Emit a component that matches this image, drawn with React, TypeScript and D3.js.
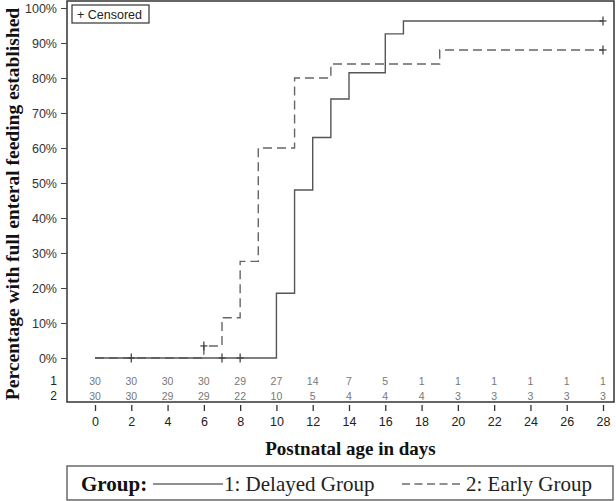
import { axisBottom, axisLeft, curveStepAfter, line, scaleLinear, select } from 'd3'
import { useEffect, useRef } from 'react'

// Kaplan-Meier style steps: times where the curve jumps and the level after each jump (%)
const delayedTimes = [0, 10, 11, 12, 13, 14, 16, 17]
const delayedValues = [0, 18.5, 48, 63, 74, 81.5, 92.6, 96.3]
const earlyTimes = [0, 6, 7, 8, 9, 11, 13, 19]
const earlyValues = [0, 3.45, 11.5, 27.6, 60, 80, 84, 88]

// censored observations [day, level %]
const delayedCensored = [[2, 0], [7, 0], [8, 0], [28, 96.3]]
const earlyCensored = [[6, 3.45], [28, 88]]

const dayTicks = [0, 2, 4, 6, 8, 10, 12, 14, 16, 18, 20, 22, 24, 26, 28]
const atRiskDelayed = [30, 30, 30, 30, 29, 27, 14, 7, 5, 1, 1, 1, 1, 1, 1]
const atRiskEarly = [30, 30, 29, 29, 22, 10, 5, 4, 4, 4, 3, 3, 3, 3, 3]
const pctTicks = [0, 10, 20, 30, 40, 50, 60, 70, 80, 90, 100]

const W = 616
const H = 501
const frame = { left: 67, top: 1, right: 614, bottom: 402 }
const sans = 'Liberation Sans, Arial, sans-serif'
const serif = 'Liberation Serif, Times New Roman, serif'

export default function App() {
    const ref = useRef(null)

    useEffect(() => {
        document.body.style.margin = '0'
        const svg = select(ref.current)
        svg.selectAll('*').remove()

        const x = scaleLinear().domain([0, 28]).range([95, 603])
        const y = scaleLinear().domain([0, 100]).range([358, 8])

        // frame
        svg.append('rect')
            .attr('x', frame.left)
            .attr('y', frame.top)
            .attr('width', frame.right - frame.left)
            .attr('height', frame.bottom - frame.top)
            .attr('fill', 'none')
            .attr('stroke', '#333')
            .attr('stroke-width', 1.5)

        // y axis
        svg.append('g')
            .attr('transform', `translate(${frame.left},0)`)
            .call(axisLeft(y).tickValues(pctTicks).tickSize(6).tickPadding(4).tickFormat(d => `${d}%`))
            .call(g => g.select('.domain').remove())
            .call(g => g.selectAll('line').attr('stroke', '#444'))
            .call(g => g.selectAll('text')
                .attr('font-family', sans)
                .attr('font-size', 12.5)
                .attr('fill', '#333'))

        // x axis below frame
        svg.append('g')
            .attr('transform', `translate(0,${frame.bottom + 3})`)
            .call(axisBottom(x).tickValues(dayTicks).tickSize(6).tickPadding(6))
            .call(g => g.select('.domain').remove())
            .call(g => g.selectAll('line').attr('stroke', '#333').attr('stroke-width', 1.3))
            .call(g => g.selectAll('text')
                .attr('font-family', sans)
                .attr('font-size', 12.5)
                .attr('fill', '#222'))

        const step = line()
            .curve(curveStepAfter)
            .x(d => x(d[0]))
            .y(d => y(d[1]))

        const toPoints = (times, values) => {
            const pts = times.map((t, i) => [t, values[i]])
            pts.push([28, values[values.length - 1]])
            return pts
        }

        svg.append('path')
            .datum(toPoints(earlyTimes, earlyValues))
            .attr('fill', 'none')
            .attr('stroke', '#666')
            .attr('stroke-width', 1.4)
            .attr('stroke-dasharray', '9,5')
            .attr('d', step)

        svg.append('path')
            .datum(toPoints(delayedTimes, delayedValues))
            .attr('fill', 'none')
            .attr('stroke', '#555')
            .attr('stroke-width', 1.4)
            .attr('d', step)

        const censor = (pts, color) => {
            const g = svg.append('g').attr('stroke', color).attr('stroke-width', 1.3)
            pts.forEach(([t, v]) => {
                g.append('line').attr('x1', x(t)).attr('x2', x(t)).attr('y1', y(v) - 4.5).attr('y2', y(v) + 4.5)
                g.append('line').attr('x1', x(t) - 3.5).attr('x2', x(t) + 3.5).attr('y1', y(v)).attr('y2', y(v))
            })
        }
        censor(delayedCensored, '#444')
        censor(earlyCensored, '#444')

        // censored legend box
        svg.append('rect')
            .attr('x', 72).attr('y', 5).attr('width', 77).attr('height', 18)
            .attr('fill', 'white').attr('stroke', '#333').attr('stroke-width', 1.2)
        svg.append('text')
            .attr('x', 77).attr('y', 19)
            .attr('font-family', sans).attr('font-size', 12.5).attr('fill', '#222')
            .text('+ Censored')

        // number at risk table
        const rows = [[atRiskDelayed, 381, '1'], [atRiskEarly, 396, '2']]
        rows.forEach(([vals, ry, label]) => {
            svg.append('text')
                .attr('x', 57).attr('y', ry).attr('dy', '0.35em')
                .attr('text-anchor', 'end')
                .attr('font-family', sans).attr('font-size', 12).attr('fill', '#222')
                .text(label)
            svg.append('g').selectAll('text').data(vals).join('text')
                .attr('x', (d, i) => x(dayTicks[i]))
                .attr('y', ry).attr('dy', '0.35em')
                .attr('text-anchor', 'middle')
                .attr('font-family', sans).attr('font-size', 10.5).attr('fill', '#777')
                .text(d => d)
        })

        // axis titles
        svg.append('text')
            .attr('x', (frame.left + frame.right) / 2 + 10).attr('y', 455)
            .attr('text-anchor', 'middle')
            .attr('font-family', serif).attr('font-weight', 'bold').attr('font-size', 19).attr('fill', '#111')
            .text('Postnatal age in days')

        svg.append('text')
            .attr('transform', `translate(19,${204}) rotate(-90)`)
            .attr('text-anchor', 'middle')
            .attr('font-family', serif).attr('font-weight', 'bold').attr('font-size', 19.5).attr('fill', '#111')
            .text('Percentage with full enteral feeding established')

        // group legend
        const ly = 484
        svg.append('rect')
            .attr('x', 67).attr('y', 466).attr('width', 546).attr('height', 34)
            .attr('fill', 'white').attr('stroke', '#444').attr('stroke-width', 1.2)
        svg.append('text')
            .attr('x', 81).attr('y', ly).attr('dy', '0.35em')
            .attr('font-family', serif).attr('font-weight', 'bold').attr('font-size', 21).attr('fill', '#111')
            .text('Group:')
        svg.append('line')
            .attr('x1', 153).attr('x2', 223).attr('y1', ly).attr('y2', ly)
            .attr('stroke', '#222').attr('stroke-width', 1.2)
        svg.append('text')
            .attr('x', 224).attr('y', ly).attr('dy', '0.35em')
            .attr('font-family', serif).attr('font-size', 21).attr('fill', '#222')
            .text('1: Delayed Group')
        svg.append('line')
            .attr('x1', 402).attr('x2', 464).attr('y1', ly).attr('y2', ly)
            .attr('stroke', '#222').attr('stroke-width', 1.2)
            .attr('stroke-dasharray', '8,4.5')
        svg.append('text')
            .attr('x', 466).attr('y', ly).attr('dy', '0.35em')
            .attr('font-family', serif).attr('font-size', 21).attr('fill', '#222')
            .text('2: Early Group')
    }, [])

    return <svg ref={ref} width={W} height={H} style={{ display: 'block' }} />
}
